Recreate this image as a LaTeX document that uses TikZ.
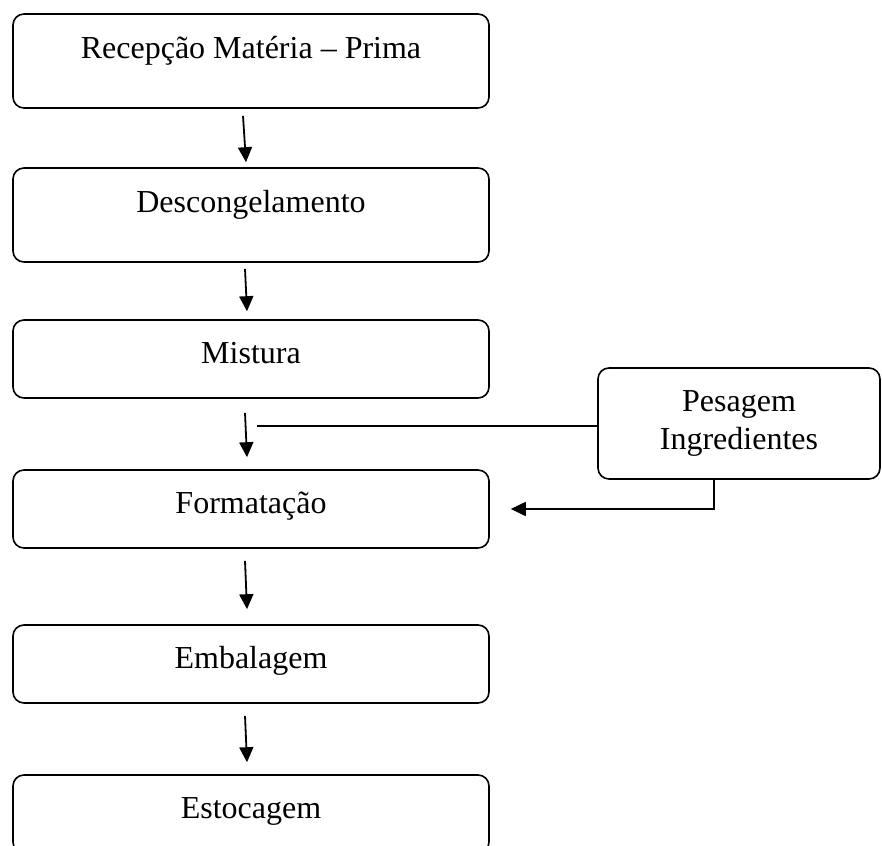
\documentclass[tikz,border=0pt]{standalone}
\usepackage{fontspec}
\setmainfont{Liberation Serif}
\usetikzlibrary{arrows.meta}
\tikzset{
  stepbox/.style={draw, line width=1.6pt, rounded corners=11pt, minimum width=476pt,
    minimum height=78pt, text height=24pt, text depth=16pt, inner sep=0pt},
  tallbox/.style={stepbox, minimum height=94pt, text depth=29pt},
  flow/.style={line width=1.8pt, -{Triangle[width=14pt,length=15pt]}}
}
\begin{document}
\begin{tikzpicture}[x=1pt, y=-1pt, font=\fontsize{32}{38}\selectfont]
    \useasboundingbox (0,0) rectangle (882,845);
    \clip (0,0) rectangle (882,845);

    % Process steps
    \node[tallbox] (recep) at (251,61) {Recepção Matéria – Prima};
    \node[tallbox] (descong) at (251,215) {Descongelamento};
    \node[stepbox] (mistura) at (251,359) {Mistura};
    \node[stepbox] (format) at (251,509) {Formatação};
    \node[stepbox] (embal) at (251,664) {Embalagem};
    \node[stepbox] (estoc) at (251,814) {Estocagem};

    % Side input
    \node[draw, line width=1.6pt, rounded corners=11pt, minimum width=282pt, minimum height=111pt,
          align=center, inner sep=0pt] (pesagem) at (739,423.5) {Pesagem\\Ingredientes};

    % Connect the steps
    \draw[flow] ([xshift=-8pt, yshift=-7pt]recep.south) -- ([xshift=-5pt, yshift=5pt]descong.north);
    \draw[flow] ([xshift=-6pt, yshift=-6pt]descong.south) -- ([xshift=-4pt, yshift=8pt]mistura.north);
    \draw[flow] ([xshift=-6pt, yshift=-14pt]mistura.south) -- ([xshift=-4pt, yshift=12pt]format.north);
    \draw[flow] ([xshift=-6pt, yshift=-12pt]format.south) -- ([xshift=-4pt, yshift=15pt]embal.north);
    \draw[flow] ([xshift=-6pt, yshift=-12pt]embal.south) -- ([xshift=-4pt, yshift=12pt]estoc.north);

    % Ingredients line
    \coordinate (mixjoin) at (257,426);
    \draw[line width=1.6pt] (mixjoin) -- (mixjoin -| pesagem.west);
    \draw[flow] ([xshift=-25pt]pesagem.south) |- ([xshift=21pt]format.east);
\end{tikzpicture}
\end{document}
